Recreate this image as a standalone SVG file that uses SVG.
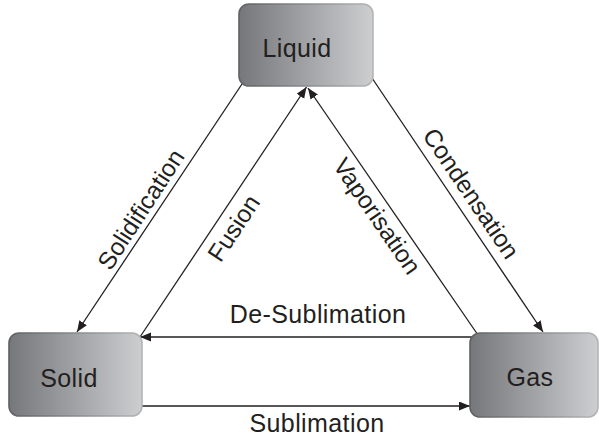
<svg xmlns="http://www.w3.org/2000/svg" width="599" height="439" viewBox="0 0 599 439">
<defs>
<linearGradient id="fillG" x1="0" y1="0" x2="1" y2="0">
<stop offset="0" stop-color="#76777a"/>
<stop offset="1" stop-color="#cdced0"/>
</linearGradient>
<linearGradient id="strokeG" x1="0" y1="0" x2="1" y2="0">
<stop offset="0" stop-color="#5f6062"/>
<stop offset="1" stop-color="#b4b5b7"/>
</linearGradient>
<marker id="arr" markerUnits="userSpaceOnUse" markerWidth="12" markerHeight="10" refX="11" refY="4.5" orient="auto">
<path d="M0,0 L11,4.5 L0,9 z" fill="#231f20"/>
</marker>
</defs>
<style>
.box{fill:url(#fillG);stroke:url(#strokeG);stroke-width:1.6}
.lbl{font-family:"Liberation Sans",Arial,sans-serif;font-size:25px;fill:#231f20;text-anchor:middle;letter-spacing:0.4px}
.elbl{font-family:"Liberation Sans",Arial,sans-serif;font-size:24.5px;fill:#231f20;text-anchor:middle}
.conn line{stroke:#231f20;stroke-width:1.3;fill:none;marker-end:url(#arr)}
</style>
<g id="connectors" class="conn">
<line x1="242" y1="84" x2="77" y2="332"/>
<line x1="140" y1="337" x2="306.5" y2="87"/>
<line x1="478" y1="335" x2="308" y2="88"/>
<line x1="372" y1="78" x2="543" y2="332"/>
<line x1="477" y1="337" x2="140" y2="337"/>
<line x1="142" y1="406" x2="470" y2="406"/>
</g>
<g id="edge-labels">
<text class="elbl" transform="translate(148,214) rotate(-57)">Solidification</text>
<text class="elbl" transform="translate(240.8,232.9) rotate(-56.4)">Fusion</text>
<text class="elbl" transform="translate(370.2,220.8) rotate(55.5)">Vaporisation</text>
<text class="elbl" transform="translate(464.1,198.1) rotate(56)">Condensation</text>
<text class="lbl" x="318" y="323">De-Sublimation</text>
<text class="lbl" x="317" y="432">Sublimation</text>
</g>
<g id="liquid">
<rect class="box" x="239" y="4" width="134" height="82" rx="10"/>
<text class="lbl" x="297" y="57">Liquid</text>
</g>
<g id="solid">
<rect class="box" x="9" y="333" width="133" height="83" rx="10"/>
<text class="lbl" x="69" y="387">Solid</text>
</g>
<g id="gas">
<rect class="box" x="470" y="333" width="128" height="84" rx="10"/>
<text class="lbl" x="530" y="386">Gas</text>
</g>
</svg>
